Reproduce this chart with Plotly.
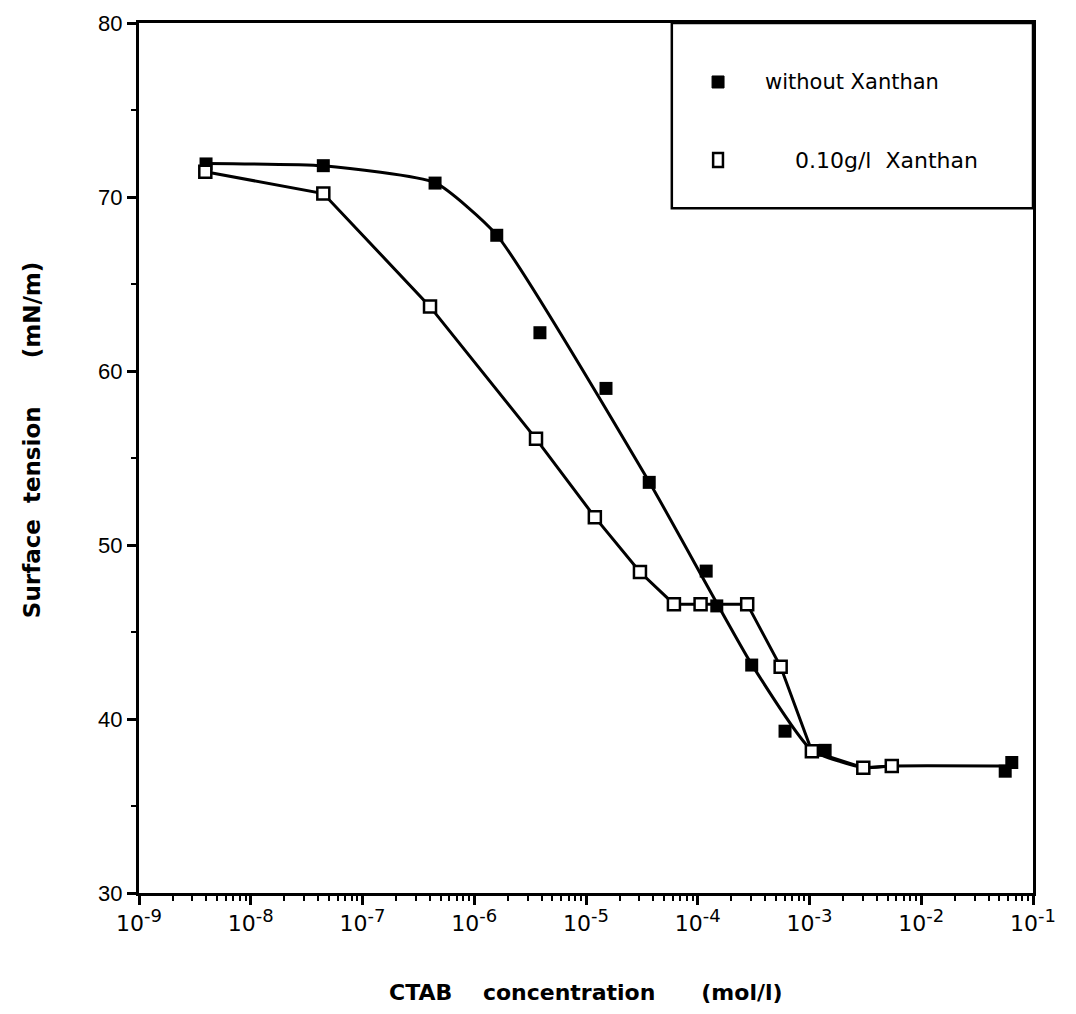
import plotly.graph_objects as go

# ---- data ----
conc_without = [3.98e-9, 4.46e-8, 4.46e-7, 1.59e-6, 3.87e-6, 1.51e-5, 3.68e-5,
                1.19e-4, 1.48e-4, 3.04e-4, 6.04e-4, 1.38e-3, 5.64e-2, 6.46e-2]
tension_without = [71.9, 71.8, 70.8, 67.8, 62.2, 59.0, 53.6,
                   48.5, 46.5, 43.1, 39.3, 38.2, 37.0, 37.5]

conc_xanthan = [3.92e-9, 4.46e-8, 4.02e-7, 3.57e-6, 1.2e-5, 3.04e-5, 6.12e-5,
                1.06e-4, 2.77e-4, 5.52e-4, 1.05e-3, 3.03e-3, 5.45e-3]
tension_xanthan = [71.45, 70.2, 63.7, 56.1, 51.6, 48.45, 46.6,
                   46.6, 46.6, 43.0, 38.15, 37.2, 37.3]

# smoothed curve drawn through the "without Xanthan" data
fit_conc = [3.98e-9, 4.46e-8, 4.46e-7, 1.59e-6, 3.68e-5,
            3.04e-4, 1.05e-3, 3.03e-3, 5.45e-3, 6.0e-2]
fit_tension = [71.93, 71.79, 70.82, 67.81, 53.62,
               43.14, 38.2, 37.2, 37.3, 37.3]

x_tickvals = [1e-9, 1e-8, 1e-7, 1e-6, 1e-5, 1e-4, 1e-3, 1e-2, 1e-1]
x_exponents = ["-9", "-8", "-7", "-6", "-5", "-4", "-3", "-2", "-1"]
x_ticktext = ["10<sup><span style='font-size:18px'>" + e + "</span></sup>" for e in x_exponents]
x_minorvals = [m * v for v in x_tickvals[:-1] for m in range(2, 10)]

FONT = "Liberation Sans, Arial, Helvetica, sans-serif"
WIDE = "DejaVu Sans, Liberation Sans, sans-serif"

fig = go.Figure()
fig.add_trace(go.Scatter(
    x=fit_conc, y=fit_tension, mode="lines",
    line=dict(color="black", width=3, shape="spline", smoothing=0.5),
    showlegend=False, hoverinfo="skip"))
fig.add_trace(go.Scatter(
    x=conc_without, y=tension_without, mode="markers", name="without Xanthan",
    marker=dict(symbol="square", size=13, color="black"), showlegend=False))
fig.add_trace(go.Scatter(
    x=conc_xanthan, y=tension_xanthan, mode="lines+markers", name="0.10g/l Xanthan",
    line=dict(color="black", width=3),
    marker=dict(symbol="square", size=12, color="white", line=dict(color="black", width=2.5)),
    showlegend=False))

fig.update_xaxes(
    type="log", range=[-9, -1], tickmode="array", tickvals=x_tickvals, ticktext=x_ticktext,
    ticks="outside", ticklen=9, tickwidth=2.5, tickcolor="black",
    showline=True, linewidth=3, linecolor="black", mirror=True,
    showgrid=False, zeroline=False, automargin=False,
    tickfont=dict(family=WIDE, size=22, color="black"),
    minor=dict(tickmode="array", tickvals=x_minorvals, ticks="outside", ticklen=5,
               tickwidth=2, tickcolor="black", showgrid=False),
)
fig.update_yaxes(
    range=[30, 80], dtick=10, tick0=30,
    ticks="outside", ticklen=9, tickwidth=2.5, tickcolor="black",
    showline=True, linewidth=3, linecolor="black", mirror=True,
    showgrid=False, zeroline=False, automargin=False,
    tickfont=dict(family=FONT, size=22, color="black"),
    minor=dict(ticks="outside", ticklen=5, tickwidth=2, tickcolor="black", dtick=5, showgrid=False),
)

# legend box
shapes = [
    dict(type="rect", xref="paper", yref="paper", x0=0.596, y0=0.787, x1=1.0, y1=1.0,
         line=dict(color="black", width=2.5), fillcolor="rgba(0,0,0,0)"),
    dict(type="rect", xref="paper", yref="paper", x0=0.6477 - 0.0067, x1=0.6477 + 0.0067,
         y0=0.9322 - 0.0069, y1=0.9322 + 0.0069, line=dict(color="black", width=1), fillcolor="black"),
    dict(type="rect", xref="paper", yref="paper", x0=0.6477 - 0.0055, x1=0.6477 + 0.0055,
         y0=0.8425 - 0.0080, y1=0.8425 + 0.0080, line=dict(color="black", width=2.5), fillcolor="white"),
]
annotations = [
    dict(xref="paper", yref="paper", x=0.698, y=0.9322, xanchor="left", yanchor="middle",
         text="without Xanthan", showarrow=False, font=dict(family=WIDE, size=21, color="black")),
    dict(xref="paper", yref="paper", x=0.7315, y=0.8425, xanchor="left", yanchor="middle",
         text="0.10g/l  Xanthan", showarrow=False, font=dict(family=WIDE, size=22, color="black")),
    dict(xref="paper", yref="paper", x=0.5, y=-0.114, xanchor="center", yanchor="middle",
         text="<b>CTAB    concentration      (mol/l)</b>", showarrow=False,
         font=dict(family=WIDE, size=22, color="black")),
    dict(xref="paper", yref="paper", x=-0.1197, y=0.5205, xanchor="center", yanchor="middle",
         text="<b>Surface  tension      (mN/m)</b>", showarrow=False, textangle=-90,
         font=dict(family=WIDE, size=23, color="black")),
]

fig.update_layout(
    width=1060, height=998,
    margin=dict(l=131, r=35, t=15, b=113, autoexpand=False),
    paper_bgcolor="white", plot_bgcolor="white",
    showlegend=False, shapes=shapes, annotations=annotations,
)

fig.write_html("out.html")
